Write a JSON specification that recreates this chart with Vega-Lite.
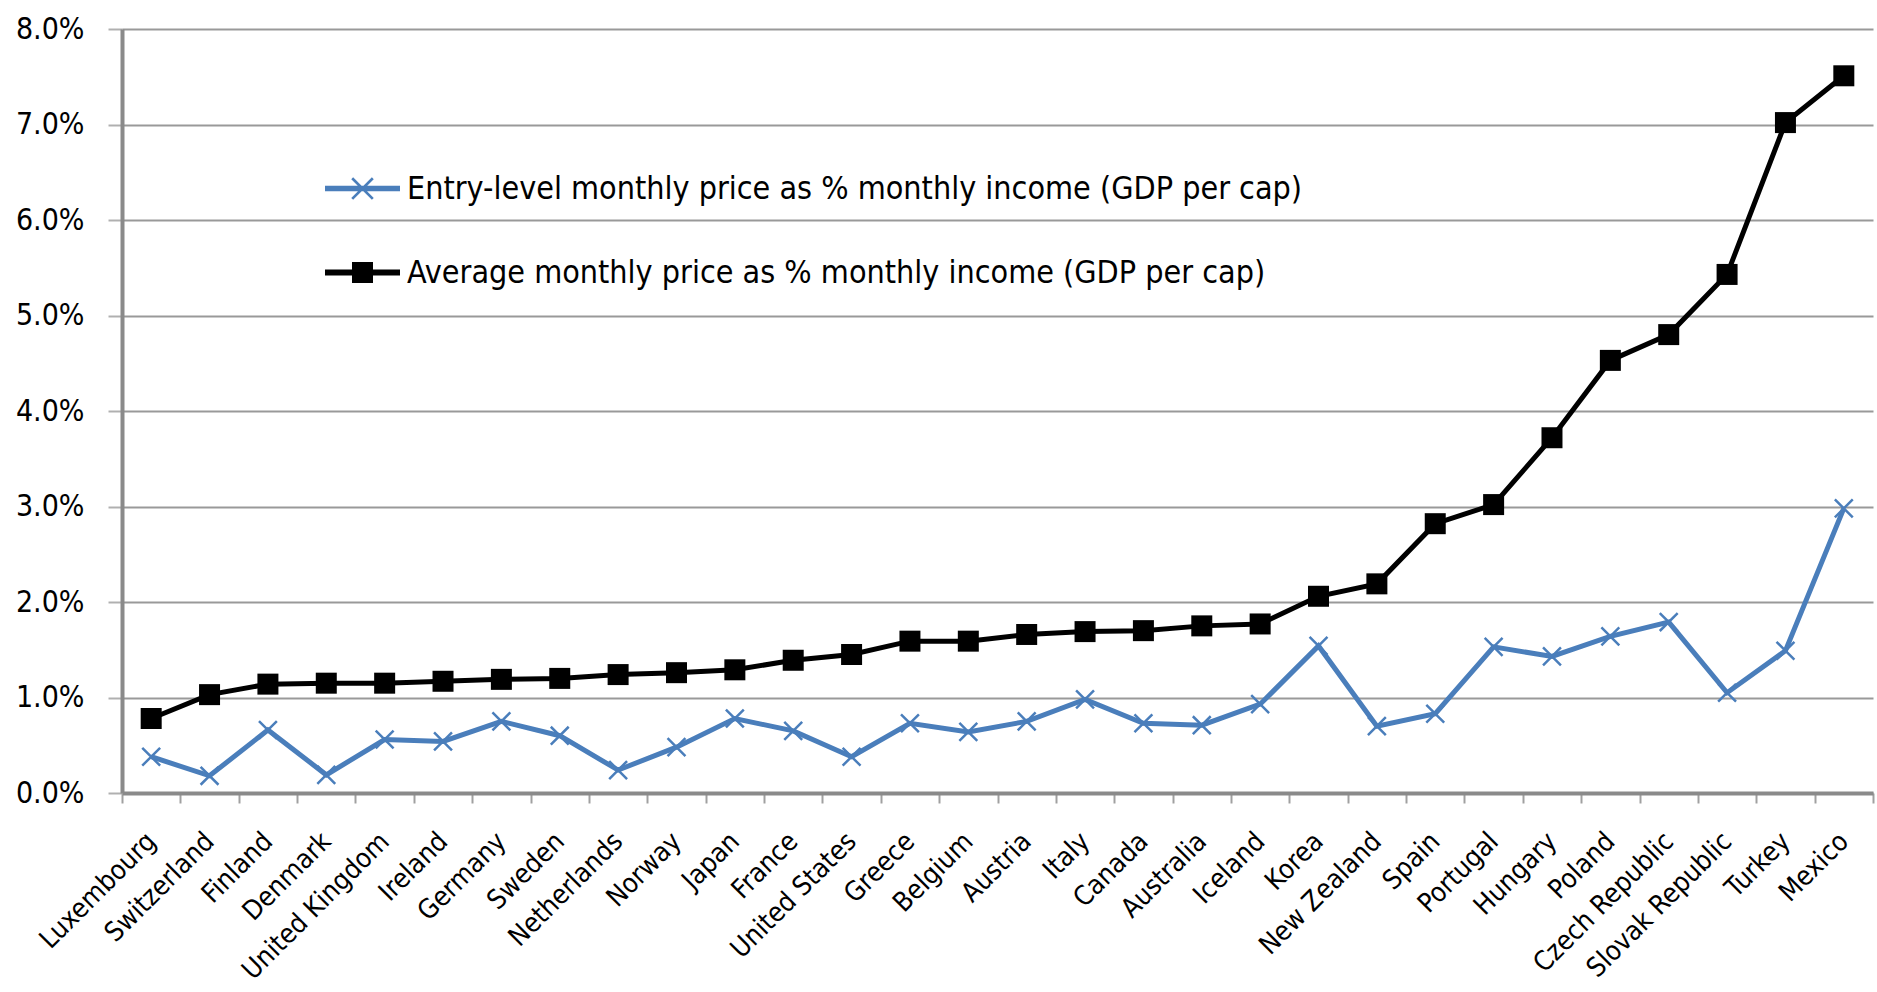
{
  "$schema": "https://vega.github.io/schema/vega-lite/v6.json",
  "autosize": {"type": "none"},
  "width": 1751,
  "height": 764,
  "padding": {"left": 122, "top": 29, "right": 4, "bottom": 199},
  "background": "white",
  "config": {
    "view": {"stroke": null},
    "font": "DejaVu Sans Condensed, sans-serif"
  },
  "data": {
    "values": [
      {"country": "Luxembourg", "series": "Entry-level monthly price as % monthly income (GDP per cap)", "value": 0.38},
      {"country": "Switzerland", "series": "Entry-level monthly price as % monthly income (GDP per cap)", "value": 0.18},
      {"country": "Finland", "series": "Entry-level monthly price as % monthly income (GDP per cap)", "value": 0.66},
      {"country": "Denmark", "series": "Entry-level monthly price as % monthly income (GDP per cap)", "value": 0.19},
      {"country": "United Kingdom", "series": "Entry-level monthly price as % monthly income (GDP per cap)", "value": 0.56},
      {"country": "Ireland", "series": "Entry-level monthly price as % monthly income (GDP per cap)", "value": 0.54},
      {"country": "Germany", "series": "Entry-level monthly price as % monthly income (GDP per cap)", "value": 0.75},
      {"country": "Sweden", "series": "Entry-level monthly price as % monthly income (GDP per cap)", "value": 0.60},
      {"country": "Netherlands", "series": "Entry-level monthly price as % monthly income (GDP per cap)", "value": 0.24},
      {"country": "Norway", "series": "Entry-level monthly price as % monthly income (GDP per cap)", "value": 0.48},
      {"country": "Japan", "series": "Entry-level monthly price as % monthly income (GDP per cap)", "value": 0.78},
      {"country": "France", "series": "Entry-level monthly price as % monthly income (GDP per cap)", "value": 0.65},
      {"country": "United States", "series": "Entry-level monthly price as % monthly income (GDP per cap)", "value": 0.38},
      {"country": "Greece", "series": "Entry-level monthly price as % monthly income (GDP per cap)", "value": 0.73},
      {"country": "Belgium", "series": "Entry-level monthly price as % monthly income (GDP per cap)", "value": 0.64},
      {"country": "Austria", "series": "Entry-level monthly price as % monthly income (GDP per cap)", "value": 0.75},
      {"country": "Italy", "series": "Entry-level monthly price as % monthly income (GDP per cap)", "value": 0.98},
      {"country": "Canada", "series": "Entry-level monthly price as % monthly income (GDP per cap)", "value": 0.73},
      {"country": "Australia", "series": "Entry-level monthly price as % monthly income (GDP per cap)", "value": 0.71},
      {"country": "Iceland", "series": "Entry-level monthly price as % monthly income (GDP per cap)", "value": 0.93},
      {"country": "Korea", "series": "Entry-level monthly price as % monthly income (GDP per cap)", "value": 1.54},
      {"country": "New Zealand", "series": "Entry-level monthly price as % monthly income (GDP per cap)", "value": 0.70},
      {"country": "Spain", "series": "Entry-level monthly price as % monthly income (GDP per cap)", "value": 0.83},
      {"country": "Portugal", "series": "Entry-level monthly price as % monthly income (GDP per cap)", "value": 1.53},
      {"country": "Hungary", "series": "Entry-level monthly price as % monthly income (GDP per cap)", "value": 1.43},
      {"country": "Poland", "series": "Entry-level monthly price as % monthly income (GDP per cap)", "value": 1.64},
      {"country": "Czech Republic", "series": "Entry-level monthly price as % monthly income (GDP per cap)", "value": 1.79},
      {"country": "Slovak Republic", "series": "Entry-level monthly price as % monthly income (GDP per cap)", "value": 1.05},
      {"country": "Turkey", "series": "Entry-level monthly price as % monthly income (GDP per cap)", "value": 1.49},
      {"country": "Mexico", "series": "Entry-level monthly price as % monthly income (GDP per cap)", "value": 2.98},
      {"country": "Luxembourg", "series": "Average monthly price as % monthly income (GDP per cap)", "value": 0.78},
      {"country": "Switzerland", "series": "Average monthly price as % monthly income (GDP per cap)", "value": 1.03},
      {"country": "Finland", "series": "Average monthly price as % monthly income (GDP per cap)", "value": 1.14},
      {"country": "Denmark", "series": "Average monthly price as % monthly income (GDP per cap)", "value": 1.15},
      {"country": "United Kingdom", "series": "Average monthly price as % monthly income (GDP per cap)", "value": 1.15},
      {"country": "Ireland", "series": "Average monthly price as % monthly income (GDP per cap)", "value": 1.17},
      {"country": "Germany", "series": "Average monthly price as % monthly income (GDP per cap)", "value": 1.19},
      {"country": "Sweden", "series": "Average monthly price as % monthly income (GDP per cap)", "value": 1.20},
      {"country": "Netherlands", "series": "Average monthly price as % monthly income (GDP per cap)", "value": 1.24},
      {"country": "Norway", "series": "Average monthly price as % monthly income (GDP per cap)", "value": 1.26},
      {"country": "Japan", "series": "Average monthly price as % monthly income (GDP per cap)", "value": 1.29},
      {"country": "France", "series": "Average monthly price as % monthly income (GDP per cap)", "value": 1.39},
      {"country": "United States", "series": "Average monthly price as % monthly income (GDP per cap)", "value": 1.45},
      {"country": "Greece", "series": "Average monthly price as % monthly income (GDP per cap)", "value": 1.59},
      {"country": "Belgium", "series": "Average monthly price as % monthly income (GDP per cap)", "value": 1.59},
      {"country": "Austria", "series": "Average monthly price as % monthly income (GDP per cap)", "value": 1.66},
      {"country": "Italy", "series": "Average monthly price as % monthly income (GDP per cap)", "value": 1.69},
      {"country": "Canada", "series": "Average monthly price as % monthly income (GDP per cap)", "value": 1.70},
      {"country": "Australia", "series": "Average monthly price as % monthly income (GDP per cap)", "value": 1.75},
      {"country": "Iceland", "series": "Average monthly price as % monthly income (GDP per cap)", "value": 1.77},
      {"country": "Korea", "series": "Average monthly price as % monthly income (GDP per cap)", "value": 2.06},
      {"country": "New Zealand", "series": "Average monthly price as % monthly income (GDP per cap)", "value": 2.19},
      {"country": "Spain", "series": "Average monthly price as % monthly income (GDP per cap)", "value": 2.82},
      {"country": "Portugal", "series": "Average monthly price as % monthly income (GDP per cap)", "value": 3.02},
      {"country": "Hungary", "series": "Average monthly price as % monthly income (GDP per cap)", "value": 3.72},
      {"country": "Poland", "series": "Average monthly price as % monthly income (GDP per cap)", "value": 4.53},
      {"country": "Czech Republic", "series": "Average monthly price as % monthly income (GDP per cap)", "value": 4.80},
      {"country": "Slovak Republic", "series": "Average monthly price as % monthly income (GDP per cap)", "value": 5.43},
      {"country": "Turkey", "series": "Average monthly price as % monthly income (GDP per cap)", "value": 7.02},
      {"country": "Mexico", "series": "Average monthly price as % monthly income (GDP per cap)", "value": 7.51}
    ]
  },
  "encoding": {
    "x": {
      "field": "country",
      "type": "nominal",
      "sort": null,
      "bandPosition": 0.5,
      "scale": {"type": "band", "paddingInner": 0, "paddingOuter": 0},
      "axis": {
        "title": null,
        "tickBand": "extent",
        "domainColor": "#8a8a8a",
        "domainWidth": 4,
        "tickColor": "#a0a0a0",
        "tickWidth": 2,
        "tickSize": 10,
        "labelAngle": -45,
        "labelAlign": "right",
        "labelBaseline": "middle",
        "labelPadding": 34,
        "labelFontSize": 27,
        "labelColor": "#000000",
        "labelFont": "DejaVu Sans Condensed, sans-serif",
        "labelLimit": 0,
        "grid": false
      }
    },
    "y": {
      "field": "value",
      "type": "quantitative",
      "scale": {"domain": [0, 8], "nice": false},
      "axis": {
        "title": null,
        "values": [0, 1, 2, 3, 4, 5, 6, 7, 8],
        "labelExpr": "format(datum.value, '.1f') + '%'",
        "grid": true,
        "gridColor": "#999999",
        "gridWidth": 2,
        "domainColor": "#8a8a8a",
        "domainWidth": 4,
        "tickColor": "#b0b0b0",
        "tickWidth": 2,
        "tickSize": 14,
        "labelPadding": 24,
        "labelFontSize": 30,
        "labelColor": "#000000",
        "labelFont": "DejaVu Sans Condensed, sans-serif"
      }
    }
  },
  "layer": [
    {
      "mark": {"type": "line", "strokeWidth": 5},
      "encoding": {
        "color": {
          "field": "series",
          "type": "nominal",
          "sort": null,
          "scale": {
            "domain": ["Entry-level monthly price as % monthly income (GDP per cap)", "Average monthly price as % monthly income (GDP per cap)"],
            "range": ["#4a7ebb", "#000000"]
          },
          "legend": {
            "title": null,
            "orient": "none",
            "legendX": 203,
            "legendY": 122,
            "padding": 0,
            "symbolSize": 5625,
            "rowPadding": 30,
            "labelOffset": 7,
            "labelFontSize": 32,
            "labelColor": "#000000",
            "labelFont": "DejaVu Sans Condensed, sans-serif",
            "labelLimit": 0,
            "symbolType": "square",
            "symbolStrokeWidth": 0,
            "encode": {
              "symbols": {
                "update": {
                  "shape": {"signal": "datum.value == 'Average monthly price as % monthly income (GDP per cap)' ? 'M-1,-0.08H1V0.08H-1Z M-0.28,-0.28H0.28V0.28H-0.28Z' : 'M-1,-0.075H1V0.075H-1Z M-0.3,-0.25L-0.25,-0.3L0.3,0.25L0.25,0.3Z M0.25,-0.3L0.3,-0.25L-0.25,0.3L-0.3,0.25Z'"},
                  "fill": {"signal": "datum.value == 'Average monthly price as % monthly income (GDP per cap)' ? '#000000' : '#4a7ebb'"},
                  "fillOpacity": {"value": 1},
                  "strokeWidth": {"value": 0}
                }
              }
            }
          }
        }
      }
    },
    {
      "transform": [{"filter": "datum.series == 'Entry-level monthly price as % monthly income (GDP per cap)'"}],
      "mark": {"type": "point", "shape": "M-1,-1L1,1M-1,1L1,-1", "size": 320, "filled": false, "stroke": "#4a7ebb", "strokeWidth": 2.5, "opacity": 1}
    },
    {
      "transform": [{"filter": "datum.series == 'Average monthly price as % monthly income (GDP per cap)'"}],
      "mark": {"type": "point", "shape": "square", "size": 441, "filled": true, "fill": "#000000", "strokeWidth": 0, "opacity": 1}
    }
  ]
}
